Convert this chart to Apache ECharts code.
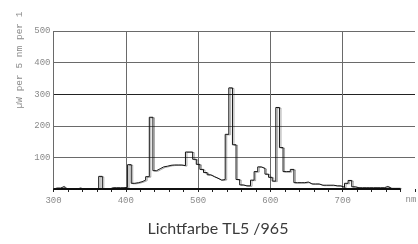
<!DOCTYPE html>
<html>
<head>
<meta charset="utf-8">
<script src="https://cdn.jsdelivr.net/npm/echarts@6/dist/echarts.min.js"></script>
<style>html,body{margin:0;padding:0;background:#fff;}#c{width:418px;height:244px;}</style>
</head>
<body>
<div id="c"></div>
<script>
// wavelengths (nm), 5 nm bins
var wavelengths = [];
for (var w = 300; w <= 780; w += 5) wavelengths.push(w);
// spectral power, µW per 5 nm per lumen
var power = [
  0, 3, 3, 8, 0, 0, 0, 3, 0, 0,           // 300-345
  0, 0, 0, 40, 0, 0, 4, 4, 4, 4,          // 350-395
  5, 77, 18, 20, 23, 28, 39, 227, 58, 64, // 400-445
  70, 72, 75, 76, 76, 76, 74, 117, 117, 94, // 450-495
  78, 62, 52, 45, 39, 34, 28, 30, 173, 320, // 500-545
  140, 30, 13, 10, 10, 28, 55, 70, 65, 47, // 550-595
  37, 25, 258, 131, 55, 55, 62, 20, 20, 20, // 600-645
  22, 16, 16, 16, 12, 12, 12, 12, 10, 10, // 650-695
  5, 18, 27, 7, 4, 4, 4, 4, 4, 4,         // 700-745
  4, 4, 8, 2, 2, 2, 2                      // 750-780
];
var yTicks = [0, 100, 200, 300, 400, 500];
var xLabels = [300, 400, 500, 600, 700];
var titleText = 'Lichtfarbe TL5 /965';
var yName = 'µW per 5 nm per 1';
var xName = 'nm';

var data = wavelengths.map(function (w, i) { return [w, power[i]]; });
var grid = '#6a6a6a';
var mono = '"Liberation Mono", "DejaVu Sans Mono", monospace';

var chart = echarts.init(document.getElementById('c'), null, {renderer: 'canvas'});
chart.setOption({
  animation: false,
  grid: {left: 53.5, right: 0, top: 31, bottom: 55, containLabel: false},
  xAxis: {
    type: 'value', min: 300, max: 800, interval: 100,
    axisLine: {show: false},
    axisTick: {show: true, length: 3, inside: false, lineStyle: {color: '#222'}},
    minorTick: {show: true, splitNumber: 5, length: 3, lineStyle: {color: '#222'}},
    axisLabel: {
      margin: 7, color: '#8a8a8a', fontFamily: mono, fontSize: 9,
      formatter: function (v) { return xLabels.indexOf(v) >= 0 ? String(v) : ''; }
    },
    splitLine: {show: true, lineStyle: {color: [grid, grid, grid, grid, grid, 'transparent'], width: 1}}
  },
  yAxis: {
    type: 'value', min: yTicks[0], max: yTicks[yTicks.length - 1], interval: 100,
    axisLine: {show: false}, axisTick: {show: false},
    axisLabel: {
      margin: 3, color: '#8a8a8a', fontFamily: mono, fontSize: 9,
      formatter: function (v) { return v === 0 ? '' : String(v); }
    },
    splitLine: {show: true, lineStyle: {color: ['transparent', grid, grid, '#222', grid, grid], width: 1}}
  },
  series: [{
    type: 'line', data: data, step: 'middle', symbol: 'none',
    lineStyle: {color: '#111', width: 1, shadowColor: 'rgba(0,0,0,0.35)', shadowOffsetX: 1.5, shadowOffsetY: 0.5, shadowBlur: 0},
    markLine: {
      silent: true, symbol: 'none', label: {show: false},
      lineStyle: {color: '#111', width: 2, type: 'solid'},
      data: [[{coord: [300, 0]}, {coord: [780, 0]}]]
    },
    z: 5
  }],
  graphic: [
    {type: 'text', x: 19.5, y: 60, rotation: Math.PI / 2,
      style: {text: yName, fill: '#8a8a8a', font: '9.5px ' + mono, align: 'center', verticalAlign: 'middle'}},
    {type: 'text', x: 411, y: 200,
      style: {text: xName, fill: '#8a8a8a', font: '9px ' + mono, align: 'center', verticalAlign: 'middle'}},
    {type: 'text', x: 218, y: 229,
      style: {text: titleText, fill: '#3a3a3a', font: '16px Lato', align: 'center', verticalAlign: 'middle'}}
  ]
});
</script>
</body>
</html>
